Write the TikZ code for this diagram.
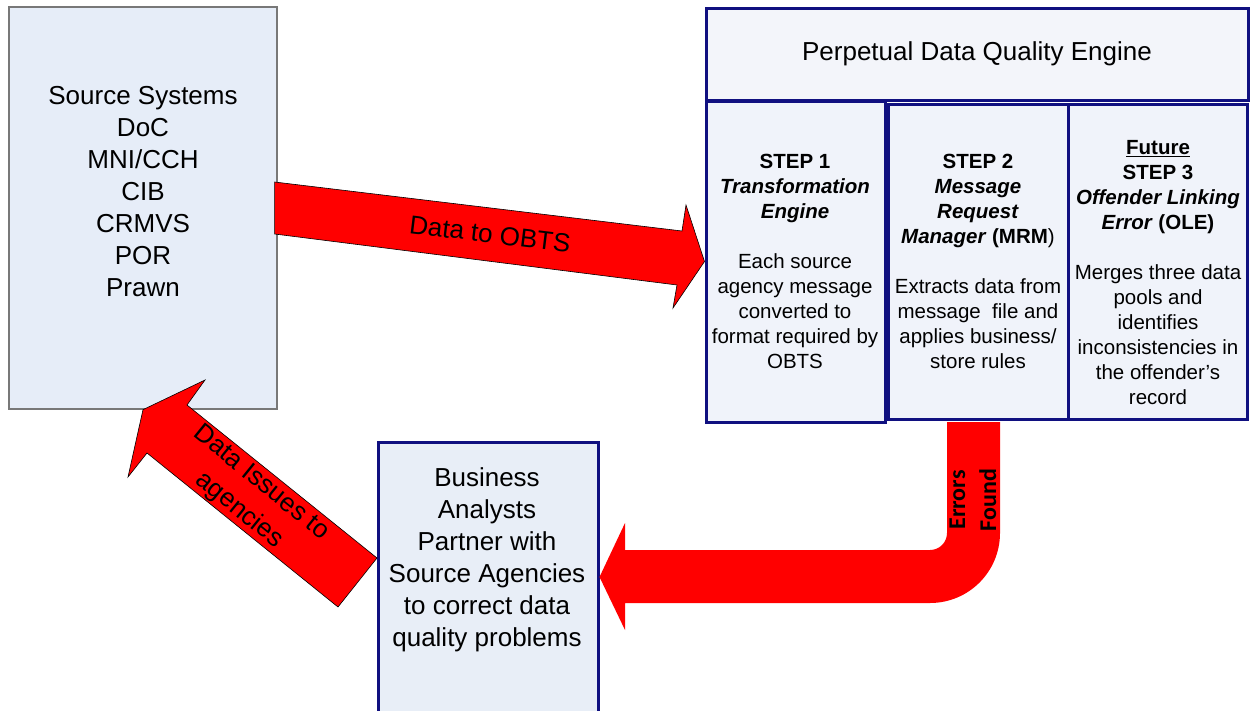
\documentclass[tikz,border=0pt]{standalone}
\usepackage{fontspec}
\setmainfont{Liberation Sans}
\newfontfamily\calibfont{Carlito}
\usetikzlibrary{calc}
\definecolor{navyb}{RGB}{16,16,128}
\definecolor{srcfill}{RGB}{230,237,248}
\definecolor{stepfill}{RGB}{240,243,250}
\definecolor{topfill}{RGB}{243,245,250}
\definecolor{busfill}{RGB}{232,238,247}
\definecolor{srcedge}{RGB}{120,120,120}
\definecolor{arrowred}{RGB}{255,0,0}
\tikzset{
  srcbox/.style={draw=srcedge, line width=1.3pt, fill=srcfill, inner sep=0pt},
  navybox/.style={draw=navyb, line width=3pt, inner sep=0pt},
  bigtext/.style={font=\fontsize{26}{32}\selectfont, align=center, inner sep=0pt},
  steptext/.style={font=\fontsize{20.5}{25}\selectfont, align=center, inner sep=0pt},
  blockarrow/.style={fill=arrowred, draw=black, line width=0.6pt, line join=miter},
  bentarrow/.style={fill=arrowred, draw=none},
  errtext/.style={font=\calibfont\bfseries\fontsize{24}{31}\selectfont, align=center, inner sep=0pt},
}
\begin{document}
\begin{tikzpicture}[x=1pt,y=-1pt]
\useasboundingbox (0,0) rectangle (1250,710);
% boxes
\node[srcbox, minimum width=268pt, minimum height=402pt] (src) at (143,208) {};
\node[navybox, fill=topfill, minimum width=542pt, minimum height=92pt] (top) at (977,54) {};
\node[navybox, fill=stepfill, minimum width=179pt, minimum height=321pt] (s1) at (795.5,261.5) {};
\node[navybox, fill=stepfill, minimum width=180pt, minimum height=315pt] (s2) at (978,261.5) {};
\node[navybox, fill=stepfill, minimum width=179pt, minimum height=315pt] (s3) at (1157.5,261.5) {};
\node[navybox, fill=busfill, minimum width=220pt, minimum height=270pt] (bus) at (488,577) {};
% texts
\node[bigtext] (srctext) at (143,192) {Source Systems\\DoC\\MNI/CCH\\CIB\\CRMVS\\POR\\Prawn};
\node[bigtext] (toptext) at (977,54) {Perpetual Data Quality Engine};
\node[steptext] (s1text) at (795,261) {\textbf{STEP 1}\\\textbf{\textit{Transformation}}\\\textbf{\textit{Engine}}\\[25pt]Each source\\agency message\\converted to\\format required by\\OBTS};
\node[steptext] (s2text) at (978,261) {\textbf{STEP 2}\\\textbf{\textit{Message}}\\\textbf{\textit{Request}}\\\textbf{\textit{Manager}} \textbf{(MRM})\\[25pt]Extracts data from\\message\ \ file and\\applies business/\\store rules};
\node[steptext] (s3text) at (1158,273) {\textbf{\underline{Future}}\\\textbf{STEP 3}\\\textbf{\textit{Offender Linking}}\\\textbf{\textit{Error}} \textbf{(OLE)}\\[25pt]Merges three data\\pools and\\identifies\\inconsistencies in\\the offender’s\\record};
\node[bigtext] (bustext) at (487,560) {Business\\Analysts\\Partner with\\Source Agencies\\to correct data\\quality problems};
% Data to OBTS arrow
\draw[blockarrow] ($(src.east)+(-3,-26)$) -- (682,231) -- (686,205) -- (s1.west) -- (673,308) -- (677,285) -- ($(src.east)+(-3,26)$) -- cycle;
\node[bigtext, rotate=-7] (lbl1) at (490,234) {Data to OBTS};
% Data issues arrow
\draw[blockarrow] (src.south) -- (205,380) -- (187,405) -- (377,558) -- (338,607) -- (147,453) -- (128,477) -- cycle;
\node[bigtext, font=\fontsize{26}{35}\selectfont, rotate=-39] (lbl2) at (250,497) {Data Issues to\\agencies};
% Errors found bent arrow
\fill[bentarrow] (947,422) -- (1000,422) -- (1000,533) .. controls (1000,571.7) and (968.7,603) .. (930,603) -- (625,603) -- (625,630) -- (bus.east) -- (625,523) -- (625,550) -- (930,550) .. controls (939.4,550) and (947,542.4) .. (947,533) -- cycle;
\node[errtext, rotate=90] (lbl3) at (973,500) {Errors\\Found};
\end{tikzpicture}
\end{document}
